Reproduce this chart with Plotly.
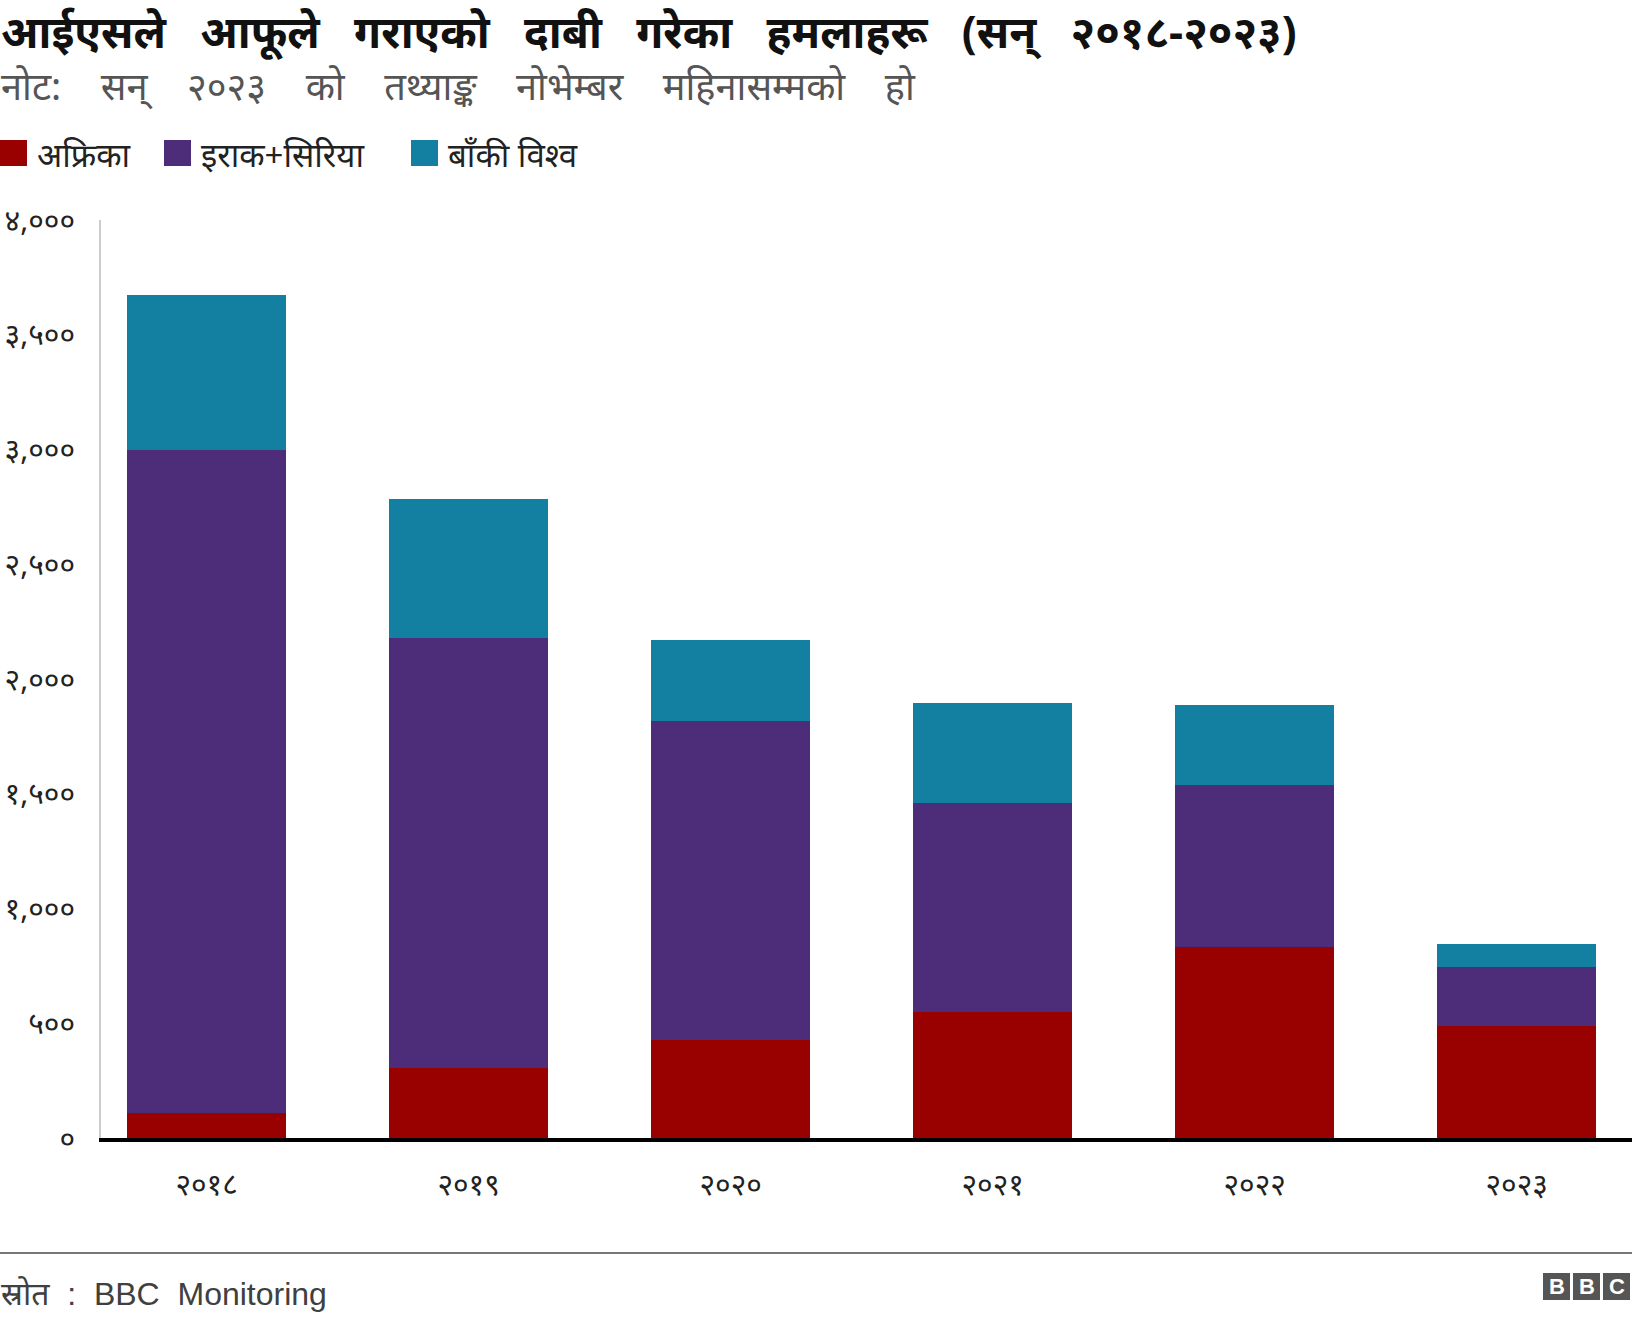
import plotly.graph_objects as go

years = ["२०१८", "२०१९", "२०२०", "२०२१", "२०२२", "२०२३"]
africa = [109, 304, 426, 549, 834, 490]
iraq_syria = [2891, 1873, 1393, 911, 703, 254]
rest_world = [673, 608, 349, 436, 350, 100]
series_names = ["अफ्रिका", "इराक+सिरिया", "बाँकी विश्व"]
colors = ["#990000", "#4d2c7a", "#1380a1"]
ytick_vals = [0, 500, 1000, 1500, 2000, 2500, 3000, 3500, 4000]
ytick_text = ["०", "५००", "१,०००", "१,५००", "२,०००", "२,५००", "३,०००", "३,५००", "४,०००"]

title = "आईएसले आफूले गराएको दाबी गरेका हमलाहरू (सन् २०१८-२०२३)"
subtitle = "नोट: सन् २०२३ को तथ्याङ्क नोभेम्बर महिनासम्मको हो"
source = "स्रोत  :  BBC  Monitoring"

FONT = "Noto Sans, Noto Sans Devanagari, Lato, sans-serif"

W, H = 1632, 1320
ML, MR, MT, MB = 101, 0, 220, 182


def nb(s, n=1):
    return s.replace(" ", "&nbsp;" * n)


def px(x):
    return (x - ML) / (W - ML - MR)


def py(y):
    return (H - MB - y) / (H - MT - MB)


xs = list(range(len(years)))
fig = go.Figure()
for name, vals, c in zip(series_names, [africa, iraq_syria, rest_world], colors):
    fig.add_trace(go.Bar(x=xs, y=vals, name=name, marker=dict(color=c, line=dict(width=0)),
                         width=0.607, showlegend=False))

fig.update_layout(
    barmode="stack",
    width=W, height=H,
    paper_bgcolor="white", plot_bgcolor="white",
    margin=dict(l=ML, r=MR, t=MT, b=MB, pad=0),
    font=dict(family=FONT, color="#222222"),
    xaxis=dict(range=[-0.403, 5.44], tickvals=xs, ticktext=years, showgrid=False,
               showline=True, linecolor="black", linewidth=4, ticks="",
               tickfont=dict(size=30, color="#222222"), ticklabelstandoff=17, zeroline=False),
    yaxis=dict(range=[0, 4000], tickvals=ytick_vals, ticktext=ytick_text, showgrid=False,
               showline=True, linecolor="#cccccc", linewidth=2, zeroline=False, ticks="",
               tickfont=dict(size=30, color="#222222"), ticklabelstandoff=18),
)

fig.add_annotation(text="<b>" + nb(title, 3) + "</b>", x=px(0), y=py(31), xref="paper", yref="paper",
                   showarrow=False, xanchor="left", yanchor="middle", borderpad=0,
                   font=dict(size=44, color="#111111", family=FONT))
fig.add_annotation(text=nb(subtitle, 4), x=px(0), y=py(85), xref="paper", yref="paper",
                   showarrow=False, xanchor="left", yanchor="middle", borderpad=0,
                   font=dict(size=38, color="#555555", family=FONT))

legend_x = [0, 164, 411]
for lx, name, c in zip(legend_x, series_names, colors):
    fig.add_shape(type="rect", xref="paper", yref="paper",
                  x0=px(lx), x1=px(lx + 27), y0=py(140), y1=py(166),
                  fillcolor=c, line=dict(width=0))
    fig.add_annotation(text=nb(name), x=px(lx + 36), y=py(154), xref="paper", yref="paper",
                       showarrow=False, xanchor="left", yanchor="middle", borderpad=0,
                       font=dict(size=33, color="#222222", family=FONT))

fig.add_shape(type="line", xref="paper", yref="paper", x0=px(0), x1=px(W),
              y0=py(1253), y1=py(1253), line=dict(color="#777777", width=2))
fig.add_annotation(text=nb(source), x=px(0), y=py(1294), xref="paper", yref="paper",
                   showarrow=False, xanchor="left", yanchor="middle", borderpad=0,
                   font=dict(size=32, color="#404040", family="Liberation Sans, Arial, " + FONT))

for i, letter in enumerate(["B", "B", "C"]):
    x0 = 1543 + i * 30
    fig.add_shape(type="rect", xref="paper", yref="paper",
                  x0=px(x0), x1=px(x0 + 27), y0=py(1273), y1=py(1300),
                  fillcolor="#555555", line=dict(width=0))
    fig.add_annotation(text="<b>" + letter + "</b>", x=px(x0 + 13.5), y=py(1286.5),
                       xref="paper", yref="paper", showarrow=False,
                       xanchor="center", yanchor="middle", borderpad=0,
                       font=dict(size=22, color="white", family="Liberation Sans, Arial"))

fig.write_html("out.html", config={"displayModeBar": False},
               post_script="document.body.style.margin='0';")
